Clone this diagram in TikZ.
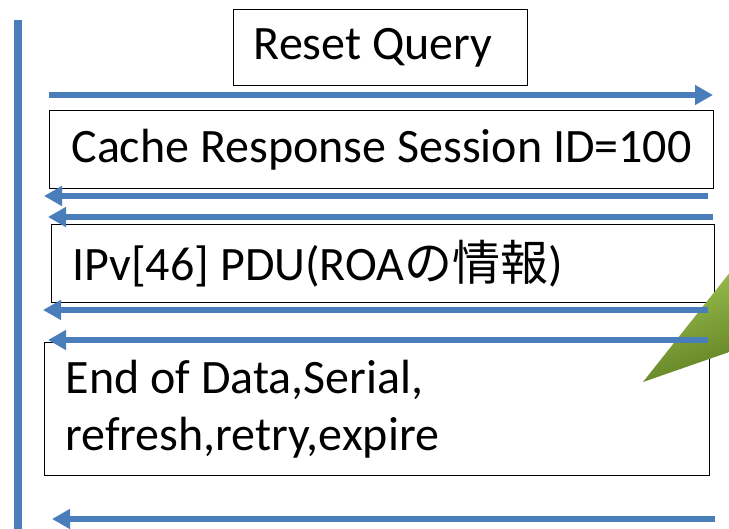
\documentclass[tikz,border=0pt]{standalone}
\usepackage{fontspec}
\setmainfont{Carlito}
\newfontfamily\jpfont{Noto Sans CJK JP}
\usepackage{tikz}
\usetikzlibrary{positioning,arrows.meta}
\definecolor{msgblue}{RGB}{74,126,187}
\definecolor{leaflight}{RGB}{160,196,82}
\definecolor{leafdark}{RGB}{98,130,36}
\tikzset{
  pdu/.style={draw=black, line width=1.2pt, inner xsep=21pt, inner ysep=0pt,
    font=\fontsize{48}{57}\selectfont, anchor=north west},
  msg/.style={msgblue, line width=6pt, -{Triangle[length=18pt,width=19pt]}},
}

\begin{document}
\begin{tikzpicture}[x=1pt,y=-1pt]
\useasboundingbox (0,0) rectangle (729,529);
% router side
\draw[msgblue, line width=8pt] (18,20) -- (18,529);
% boxes
\node[pdu, minimum width=294pt, minimum height=76pt, inner xsep=0pt] (reset) at (233,9) {Reset Query\hspace*{15pt}};
\node[pdu, minimum width=664pt, minimum height=78pt] (cache) at (49,110) {Cache Response Session ID=100};
\node[pdu, minimum width=663pt, minimum height=78pt, text width=621pt, align=flush left] (ipv) at (51,224) {IPv[46] PDU(ROA{\jpfont の情報})};
\node[pdu, minimum width=665pt, minimum height=133pt, text width=623pt, align=flush left] (eod) at (44,342) {End of Data,Serial,\\refresh,retry,expire};
\shade[top color=leaflight, bottom color=leafdark, shading angle=20] (643,382) -- (735,266) -- (735,350) -- cycle;
% messages
\coordinate (resetA) at (49,95);  \coordinate (resetB) at (713,95);
\coordinate (cacheA) at (708,196); \coordinate (cacheB) at (44,196);
\coordinate (ipvA) at (713,217);   \coordinate (ipvB) at (48,217);
\coordinate (ipvC) at (708,310);   \coordinate (ipvD) at (43,310);
\coordinate (eodA) at (708,340);   \coordinate (eodB) at (48,340);
\coordinate (eodC) at (715,519);   \coordinate (eodD) at (52,519);
\draw[msg] (resetA) -- (resetB);
\draw[msg] (cacheA) -- (cacheB);
\draw[msg] (ipvA) -- (ipvB);
\draw[msg] (ipvC) -- (ipvD);
\draw[msg] (eodA) -- (eodB);
\draw[msg] (eodC) -- (eodD);
\end{tikzpicture}
\end{document}
